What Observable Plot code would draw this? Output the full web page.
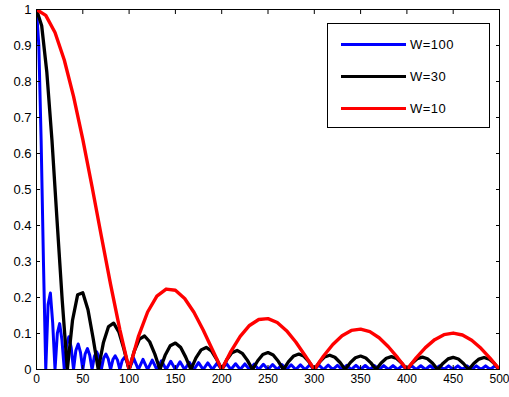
<!DOCTYPE html>
<html><head><meta charset="utf-8">
<script src="https://cdn.jsdelivr.net/npm/d3@7"></script>
<script src="https://cdn.jsdelivr.net/npm/@observablehq/plot@0.6"></script>
<style>
html,body{margin:0;padding:0;background:#fff;}
#wrap{position:relative;width:509px;height:397px;}
#legend{position:absolute;left:327px;top:23px;width:163px;height:105px;border:1px solid #000;background:#fff;box-sizing:border-box;font:13px "Liberation Sans",Arial,sans-serif;letter-spacing:0.5px;color:#000;}
.row{position:absolute;left:13px;height:16px;display:flex;align-items:center;}
.sw{width:65px;height:3px;margin-right:4px;}
</style></head><body><div id="wrap"><div id="legend"></div></div>
<script>
const seriesNames = ["W=100", "W=30", "W=10"];
const seriesColors = ["#0000ff", "#000000", "#ff0000"];
const xTicks = [0, 50, 100, 150, 200, 250, 300, 350, 400, 450, 500];
const yTicks = [0, 0.1, 0.2, 0.3, 0.4, 0.5, 0.6, 0.7, 0.8, 0.9, 1];

const redX = [0,10,20,30,40,50,60,70,80,90,100,110,120,130,140,150,160,170,180,190,200,210,220,230,240,250,260,270,280,290,300,310,320,330,340,350,360,370,380,390,400,410,420,430,440,450,460,470,480,490,500];
const redY = [1,0.9838,0.9361,0.8597,0.7588,0.6392,0.5076,0.3709,0.2364,0.1108,0,
0.0912,0.1597,0.2037,0.2234,0.2203,0.1974,0.1589,0.1097,0.0550,0,
0.0504,0.0922,0.1223,0.1389,0.1414,0.1305,0.1079,0.0763,0.0391,0,
0.0374,0.0696,0.0940,0.1085,0.1122,0.1051,0.0882,0.0632,0.0328,0,
0.0322,0.0607,0.0829,0.0968,0.1012,0.0959,0.0813,0.0589,0.0309,0];

const blackX = [0,5.6,11.1,16.7,22.2,27.8,33.3,38.9,44.4,50,55.6,61.1,66.7,72.2,77.8,83.3,88.9,94.4,
100,105.6,111.1,116.7,122.2,127.8,133.3,138.9,144.4,150,155.6,161.1,166.7,172.2,177.8,183.3,188.9,194.4,
200,205.6,211.1,216.7,222.2,227.8,233.3,238.9,244.4,250,255.6,261.1,266.7,272.2,277.8,283.3,288.9,294.4,
300,305.6,311.1,316.7,322.2,327.8,333.3,338.9,344.4,350,355.6,361.1,366.7,372.2,377.8,383.3,388.9,394.4,
400,405.6,411.1,416.7,422.2,427.8,433.3,438.9,444.4,450,455.6,461.1,466.7,472.2,477.8,483.3,488.9,494.4,500];
const blackY = [1,0.9550,0.8272,0.6369,0.4138,0.1912,
0,0.1368,0.2074,0.2131,0.1662,0.0873,
0,0.0741,0.1193,0.1288,0.1047,0.0570,
0,0.0512,0.0844,0.0930,0.0771,0.0427,
0,0.0394,0.0659,0.0734,0.0615,0.0344,
0,0.0324,0.0545,0.0612,0.0516,0.0291,
0,0.0277,0.0469,0.0530,0.0449,0.0254,
0,0.0244,0.0416,0.0471,0.0401,0.0228,
0,0.0221,0.0377,0.0429,0.0366,0.0209,
0,0.0203,0.0348,0.0397,0.0340,0.0194,
0,0.0191,0.0327,0.0374,0.0321,0.0184,
0,0.0181,0.0311,0.0357,0.0307,0.0176,
0,0.0174,0.0300,0.0345,0.0298,0.0171,
0,0.0170,0.0293,0.0337,0.0292,0.0168,
0,0.0167,0.0289,0.0334,0.0289,0.0167,
0];

const blueX = [0,2.5,5,7.5,10,12.5,15,17.5,20,22.5,25,27.5,30,32.5,35,37.5,40,42.5,45,47.5,50,52.5,55,57.5,60,62.5,65,67.5,70,72.5,75,77.5,80,82.5,85,87.5,90,92.5,95,97.5,100,
105,110,115,120,125,130,135,140,145,150,155,160,165,170,175,180,185,190,195,200,
205,210,215,220,225,230,235,240,245,250,255,260,265,270,275,280,285,290,295,300,
305,310,315,320,325,330,335,340,345,350,355,360,365,370,375,380,385,390,395,400,
405,410,415,420,425,430,435,440,445,450,455,460,465,470,475,480,485,490,495,500];
const blueY = [1,0.9003,0.6366,0.3001,0,
0.1801,0.2123,0.1287,0,
0.1001,0.1275,0.0819,0,
0.0694,0.0911,0.0602,0,
0.0531,0.0710,0.0476,0,
0.0431,0.0582,0.0394,0,
0.0362,0.0493,0.0336,0,
0.0313,0.0428,0.0293,0,
0.0276,0.0379,0.0260,0,
0.0247,0.0340,0.0234,0,
0.0309,0,0.0283,0,0.0261,0,0.0243,0,0.0227,0,0.0214,0,0.0202,0,0.0191,0,0.0182,0,0.0174,0,
0.0167,0,0.0160,0,0.0154,0,0.0149,0,0.0144,0,0.0139,0,0.0135,0,0.0132,0,0.0128,0,0.0125,0,
0.0122,0,0.0120,0,0.0117,0,0.0115,0,0.0113,0,0.0111,0,0.0110,0,0.0108,0,0.0107,0,0.0106,0,
0.0105,0,0.0104,0,0.0103,0,0.0102,0,0.0102,0,0.0101,0,0.0101,0,0.0100,0,0.0100,0,0.0100,0];

const toRows = (xs, ys) => xs.map((x, i) => ({x, y: ys[i]}));
const blue = toRows(blueX, blueY);
const black = toRows(blackX, blackY);
const red = toRows(redX, redY);

const fmtX = d => String(d);
const fmtY = d3.format(".1~f");
const font = '"Liberation Sans", Arial, sans-serif';
const chart = Plot.plot({
  width: 509, height: 397,
  marginLeft: 36, marginRight: 10, marginTop: 9, marginBottom: 28,
  style: {fontFamily: font, fontSize: "12px", background: "#fff", color: "#000", overflow: "visible"},
  x: {domain: [0, 500]},
  y: {domain: [0, 1]},
  marks: [
    Plot.line(blue, {x: "x", y: "y", stroke: seriesColors[0], strokeWidth: 3, clip: true}),
    Plot.line(black, {x: "x", y: "y", stroke: seriesColors[1], strokeWidth: 3.3, clip: true}),
    Plot.line(red, {x: "x", y: "y", stroke: seriesColors[2], strokeWidth: 3.4, clip: true}),
    Plot.frame({stroke: "#000", strokeWidth: 1}),
    Plot.axisX({ticks: xTicks, tickSize: -4, tickPadding: 9, tickFormat: fmtX, label: null, fontSize: 12}),
    Plot.axisX({anchor: "top", ticks: xTicks, tickSize: -4, tickFormat: () => "", label: null}),
    Plot.axisY({ticks: yTicks, tickSize: -4, tickPadding: 9, tickFormat: fmtY, label: null, fontSize: 13, style: {letterSpacing: "0.4px"}}),
    Plot.axisY({anchor: "right", ticks: yTicks, tickSize: -4, tickFormat: () => "", label: null})
  ]
});
document.getElementById("wrap").prepend(chart);

const legend = document.getElementById("legend");
const rowTops = [12, 44, 76];
seriesNames.forEach((name, i) => {
  const row = document.createElement("div");
  row.className = "row";
  row.style.top = rowTops[i] + "px";
  const sw = document.createElement("div");
  sw.className = "sw";
  sw.style.background = seriesColors[i];
  const t = document.createElement("span");
  t.textContent = name;
  row.appendChild(sw); row.appendChild(t);
  legend.appendChild(row);
});
</script></body></html>
